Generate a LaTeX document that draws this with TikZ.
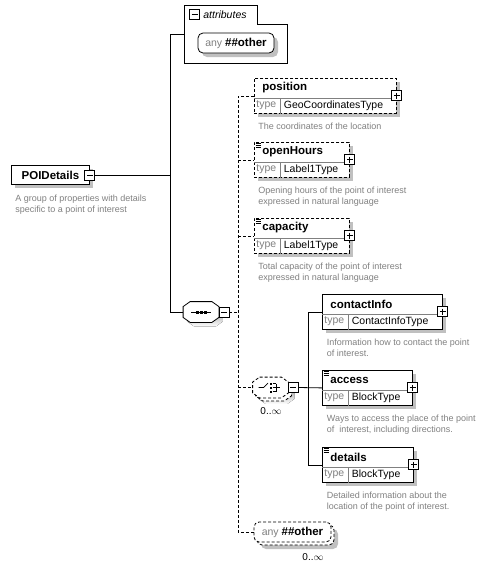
\documentclass[tikz,border=0pt]{standalone}
\usepackage{fontspec}
\setmainfont{Liberation Sans}
\usetikzlibrary{calc,shadows}

\definecolor{shade}{RGB}{192,192,192}
\definecolor{doctext}{RGB}{128,128,128}

\tikzset{
  shadowed/.style={drop shadow={shadow xshift=4pt,shadow yshift=-4pt,fill=shade,opacity=1}},
  elembox/.style={draw,fill=white,anchor=north west,minimum height=35pt,inner sep=0pt,shadowed},
  optional/.style={dash pattern=on 3pt off 2pt},
  elemname/.style={font=\fontsize{11.5}{13}\selectfont\bfseries,inner sep=0pt,anchor=west},
  typetext/.style={font=\fontsize{10.5}{12}\selectfont,inner sep=0pt,anchor=west},
  doc/.style={font=\fontsize{9}{11.7}\selectfont,text=doctext,align=left,inner sep=0pt,anchor=north west},
  multi/.style={font=\fontsize{10}{12}\selectfont,inner sep=0pt},
  plusbox/.style={draw,solid,fill=white,minimum size=10pt,inner sep=0pt,line width=0.7pt,
    path picture={\draw ([xshift=2pt]path picture bounding box.west) -- ([xshift=-2pt]path picture bounding box.east);
      \draw ([yshift=-2pt]path picture bounding box.north) -- ([yshift=2pt]path picture bounding box.south);}},
  minusbox/.style={draw,solid,fill=white,minimum size=10pt,inner sep=0pt,line width=0.7pt,
    path picture={\draw ([xshift=2pt]path picture bounding box.west) -- ([xshift=-2pt]path picture bounding box.east);}},
  compositor/.style={minimum width=35pt,minimum height=20pt,inner sep=0pt},
  wildcard/.style={draw,fill=white,rounded corners=5pt,minimum height=20pt,inner sep=2pt,
    font=\fontsize{10.5}{12}\selectfont}
}

\newcommand{\anyother}{{\color{doctext}any}~{\fontsize{11.5}{13}\selectfont\bfseries\#\#other}}

% octagon round a compositor node
\newcommand{\octpath}[1]{($(#1.north west)+(7,0)$) -- ($(#1.north east)+(-7,0)$) -- ($(#1.north east)+(0,5)$)
  -- ($(#1.south east)+(0,-5)$) -- ($(#1.south east)+(-7,0)$) -- ($(#1.south west)+(7,0)$)
  -- ($(#1.south west)+(0,-5)$) -- ($(#1.north west)+(0,5)$) -- cycle}

% name, x, y, width, label, type, border style
\newcommand{\xsdelem}[7]{%
  \node[elembox,minimum width=#4pt,#7] (#1) at (#2,#3) {};
  \draw[gray,line width=0.6pt] ($(#1.north west)+(0,20)$) -- ($(#1.north east)+(0,20)$)
    ($(#1.north west)+(26.5,20)$) -- ($(#1.south west)+(26.5,0)$);
  \node[elemname] (#1-name) at ($(#1.north west)+(8,10)$) {#5};
  \node[typetext,text=doctext] (#1-key) at ($(#1.north west)+(2,27.5)$) {type};
  \node[typetext] (#1-type) at ($(#1.north west)+(29.5,27.5)$) {#6};
  \node[plusbox] (#1-plus) at ($(#1.north east)+(0,17.5)$) {};
}
\newcommand{\docmark}[1]{%
  \draw[line width=0.4pt] ($(#1.north west)+(1.5,1.5)$) -- +(5,0)
    ($(#1.north west)+(1.5,3.3)$) -- +(5,0)
    ($(#1.north west)+(1.5,5.1)$) -- +(5,0);
}

\begin{document}
\begin{tikzpicture}[x=1pt,y=-1pt,line width=0.8pt]
\useasboundingbox (0,0) rectangle (491,568);
%group
\node[elembox,minimum width=78pt,minimum height=19pt,font=\fontsize{11.5}{13}\selectfont\bfseries] (poi) at (11,165) {POIDetails};
\node[minusbox] (poi-minus) at (poi.east) {};
\node[doc] (poi-doc) at ($(poi.south west)+(4,9.5)$) {A group of properties with details\\specific to a point of interest};

%attributes
\node[inner sep=0pt,minimum width=103pt,minimum height=58pt,anchor=north west] (attrs) at (184,5) {};
\draw (attrs.north west) -- ($(attrs.north west)+(73,0)$) |- ($(attrs.north east)+(0,19)$)
  -- (attrs.south east) -- (attrs.south west) -- cycle;
\node[minusbox] (attrs-minus) at (194.5,14.5) {};
\node[font=\fontsize{10.5}{12}\selectfont\itshape,anchor=west,inner sep=0pt] (attrs-title) at (203,14.5) {attributes};
\node[wildcard,shadowed,minimum width=76pt] (attrs-any) at (236,43) {\anyother};

%sequence
\node[compositor] (seq) at (201,312) {};
\fill[shade,transform canvas={shift={(4pt,-4pt)}}] \octpath{seq};
\draw[fill=white] \octpath{seq};
\draw (seq.center) +(-10,0) -- +(10,0);
\foreach \dx in {-4,0,4}
  \fill ($(seq.center)+(\dx,0)$) +(-1.5,-1.5) rectangle +(1.5,1.5);
\node[minusbox] (seq-minus) at (224,312) {};

%choice
\node[compositor] (choice-stack) at (273.5,390.5) {};
\node[compositor] (choice) at (270.5,387.5) {};
\fill[shade,transform canvas={shift={(3pt,-3pt)}}] \octpath{choice-stack};
\draw[optional,fill=white] \octpath{choice-stack};
\draw[optional,fill=white] \octpath{choice};
\draw[line width=0.7pt] ($(choice.center)+(-12,0)$) -- +(5,0) -- +(9.5,-4.5);
\foreach \dy in {-4,0,4} {
  \fill ($(choice.center)+(0.5,\dy)$) +(-1,-1) rectangle +(1,1);
  \draw[line width=0.7pt] ($(choice.center)+(2,\dy)$) -- +(3.5,0);
}
\draw[line width=0.7pt] ($(choice.center)+(5.5,-4)$) -- +(0,8) ($(choice.center)+(5.5,0)$) -- +(4,0);
\node[minusbox] (choice-minus) at (293,387.5) {};
\node[multi] (choice-occ) at (271,411) {0..$\infty$};

%elements
\xsdelem{position}{254}{78}{142}{position}{GeoCoordinatesType}{optional}
\node[doc] (position-doc) at ($(position.south west)+(4,8.5)$) {The coordinates of the location};
\xsdelem{openHours}{254}{142}{95}{openHours}{Label1Type}{optional}
\docmark{openHours}
\node[doc] (openHours-doc) at ($(openHours.south west)+(4,8.5)$) {Opening hours of the point of interest\\expressed in natural language};
\xsdelem{capacity}{254}{218}{95}{capacity}{Label1Type}{optional}
\docmark{capacity}
\node[doc] (capacity-doc) at ($(capacity.south west)+(4,8.5)$) {Total capacity of the point of interest\\expressed in natural language};
\xsdelem{contactInfo}{322}{294}{120}{contactInfo}{ContactInfoType}{}
\node[doc] (contactInfo-doc) at ($(contactInfo.south west)+(4.5,8.5)$) {Information how to contact the point\\of interest.};
\xsdelem{access}{322}{370}{90}{access}{BlockType}{}
\docmark{access}
\node[doc] (access-doc) at ($(access.south west)+(4.5,8.5)$) {Ways to access the place of the point\\of \ interest, including directions.};
\xsdelem{details}{322}{447}{91}{details}{BlockType}{}
\docmark{details}
\node[doc] (details-doc) at ($(details.south west)+(4.5,8.5)$) {Detailed information about the\\location of the point of interest.};

%any other
\node[wildcard,optional,shadowed,minimum width=77pt] (other-stack) at (295.5,535) {\phantom{\anyother}};
\node[wildcard,optional,minimum width=77pt] (other) at (292.5,532) {\anyother};
\node[multi] (other-occ) at (313,557) {0..$\infty$};

%connectors
\coordinate (j1) at (170,0);
\coordinate (j2) at (238,0);
\coordinate (j3) at (308,0);
\draw (poi-minus.east) -- (poi-minus.east -| j1);
\draw (attrs.west) -| (j1 |- seq.west) -- (seq.west);
\draw[optional] (seq-minus.east) -- (seq-minus.east -| j2);
\draw[optional] (position.west) -| (j2 |- other.west) -- (other.west);
\foreach \e in {openHours,capacity,choice}
  \draw[optional] (j2 |- \e.west) -- (\e.west);
\draw (choice-minus.east) -- (access.west);
\draw (contactInfo.west) -| (j3 |- details.west) -- (details.west);
\end{tikzpicture}
\end{document}
